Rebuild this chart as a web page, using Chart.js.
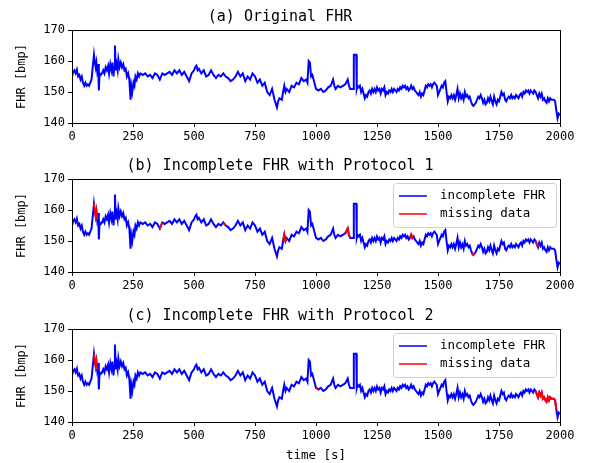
<!DOCTYPE html>
<html>
<head>
<meta charset="utf-8">
<script src="https://cdn.jsdelivr.net/npm/chart.js@4.4.1/dist/chart.umd.min.js"></script>
<style>
  body { margin: 0; background: #fff; }
  .panel { position: absolute; left: 0; width: 597px; }
</style>
</head>
<body>
<div class="panel" style="top:0;height:150px"><canvas id="chartA"></canvas></div>
<div class="panel" style="top:149px;height:150px"><canvas id="chartB"></canvas></div>
<div class="panel" style="top:299px;height:164px"><canvas id="chartC"></canvas></div>
<script>
// FHR signal (time in s, heart rate in bpm)
var timeSec = [
    0,5,10,15,20,25,30,35,40,45,50,55,60,65,70,75,80,85,90,93,97,100,103,107,110,113,118,123,128,133,138,143,148,152,157,162,166,170,173,176,
    179,183,187,190,195,200,205,210,215,220,225,230,235,240,243,247,252,256,260,265,270,275,280,290,300,310,320,330,340,350,360,365,370,380,390,400,410,420,430,440,450,460,470,
    480,490,500,505,510,515,520,530,540,550,560,570,580,590,600,610,620,630,640,650,660,670,680,690,700,710,720,730,740,750,
    760,770,780,790,800,810,820,830,840,845,850,860,865,870,875,880,890,900,910,920,930,940,950,960,965,970,975,980,985,990,
    1000,1010,1020,1030,1040,1050,1060,1070,1075,1080,1090,1100,1110,1120,1130,1135,1140,1150,1153,1155,1165,1167,1170,
    1175,1180,1185,1190,1195,1200,1205,1210,1215,1220,
    1225,1230,1235,1240,1245,1250,1255,1260,1265,1270,
    1275,1280,1285,1290,1295,1300,1305,1310,1315,1320,
    1325,1330,1335,1340,1345,1350,1355,1360,1365,1370,
    1375,1380,1385,1390,1395,1400,1405,1410,1415,1420,
    1425,1430,1435,1440,1445,1450,1455,1460,1465,1470,
    1475,1480,1485,1490,1495,1500,1505,1510,1515,1520,
    1525,1530,1535,1540,1545,1550,1555,1560,1565,1570,
    1575,1580,1585,1590,1595,1600,1605,1610,1615,1620,
    1625,1630,1635,1640,1645,1650,1655,1660,1665,1670,
    1675,1680,1685,1690,1695,1700,1705,1710,1715,1720,
    1725,1730,1735,1740,1745,1750,1755,1760,1765,1770,
    1775,1780,1785,1790,1795,1800,1805,1810,1815,1820,
    1825,1830,1835,1840,1845,1850,1855,1860,1865,1870,
    1875,1880,1885,1890,1895,
    1900,1905,1910,1915,1920,1925,1930,1935,1940,1945,1950,1955,1960,1965,1970,1975,1980,1985,1990,1995,2000
];
var fhr = [
    155,156.5,157,156,157.2,155,155.5,154,155,153,152,153,152,152.5,152,153,154,158,162,160,158,159.5,157,159,150.5,156,155.5,156,157,156,158,157,158.5,156,159,157,159.5,155,158,165,
    157,159,157,160.5,158,159.5,158,159,157,157.5,155,156,154,147.5,152,150,153,152,155,154,156,155,156,155.5,156,155,155.5,154.5,156,155.5,154,155,156,155.5,156,156.5,155.5,157,156,157,155.5,156.5,155,
    153.5,156,157,158,158.5,157,157.5,156,157,155,155.5,157,155.5,154.5,155.5,155,156,155,154.5,153.5,154,155,156.5,155,156,153.5,155,154,156,155,
    153,154,152,153,150,149,151,147.5,145,147,148,147.5,150,152,150,151,150,152,151.5,153,152.5,154.5,153.5,154,153,160,159.5,155,155.5,154,
    151,150.5,151,150,150.5,151.5,152,154,152,151,152,151.5,152,152.5,154,152,151,151,151,162,162,151,152,
    151.5,152,150,151,149.5,148,149,148.5,150,150.5,
    149.5,151,150,151,150,151.5,150.5,151,149.5,151,
    150.5,151.5,149,150,149.5,150.5,150,151,150,151,
    150.5,150,151,150.5,151.5,151,152,151.5,152,151,
    151.5,150.5,151,152,151,151.5,150.5,150,149.5,149,
    150,148.5,149.5,149,150.5,152,151.5,152.5,152,152.5,
    151.5,152.5,153,152.5,152,149,150,151,152,151.5,
    153,153.5,150,147,148.5,148,149,148,149,147.5,
    149,151,148,149.5,148,149,147.5,150,148.5,149,
    148,148.5,147,146,145.5,146,146.5,147.5,148.5,148,
    149,148,146.5,147.5,146,146.5,148,147,148.5,147,
    146,148.5,147,146,147.5,147,148.5,150,149,149.5,
    147.5,147,148,148.5,148,149,148,148.5,148,149,
    148.5,148,149,149.5,148.5,150,149.5,150.5,150,150.5,
    149.5,150.5,150,149.5,150.5,
    150,149,148,149.5,148.5,149.5,147.5,148,147,146.5,148,147,148,147.5,147.5,147.5,147,144,141.5,143,142.5
];

// missing-data intervals [start, end] in s
var missingP1 = [[90,103],[355,370],[612,630],[865,885],[1120,1140],[1385,1400],[1638,1652],[1898,1912]];
var missingP2 = [[90,103],[995,1012],[1898,1988]];

var xTicks = [0,250,500,750,1000,1250,1500,1750,2000];
var yTicks = [140,150,160,170];

var titles = ['(a) Original FHR', '(b) Incomplete FHR with Protocol 1', '(c) Incomplete FHR with Protocol 2'];

var monoFont = "'DejaVu Sans Mono', monospace";

function points() {
    return timeSec.map(function(t, i) { return { x: t, y: fhr[i] }; });
}

function missingPoints(ranges) {
    // keep samples inside each interval, null between intervals
    var pts = [];
    ranges.forEach(function(r) {
        timeSec.forEach(function(t, i) {
            if (t >= r[0] && t <= r[1]) pts.push({ x: t, y: fhr[i] });
        });
        pts.push({ x: r[1] + 0.5, y: null });
    });
    return pts;
}

var framePlugin = {
    id: 'frame',
    afterDraw: function(chart) {
        var a = chart.chartArea;
        var ctx = chart.ctx;
        ctx.save();
        ctx.strokeStyle = '#000';
        ctx.lineWidth = 1;
        ctx.strokeRect(Math.round(a.left) + 0.5, Math.round(a.top) + 0.5, Math.round(a.right - a.left), Math.round(a.bottom - a.top));

        if (chart.options.plugins.boxLegend && chart.options.plugins.boxLegend.show) {
            var w = 163, h = 44;
            var bx = a.right - w - 4, by = a.top + 4;
            ctx.beginPath();
            ctx.roundRect(bx + 0.5, by + 0.5, w, h, 3);
            ctx.fillStyle = 'rgba(255,255,255,0.8)';
            ctx.fill();
            ctx.strokeStyle = '#d0d0d0';
            ctx.stroke();
            ctx.font = '12.5px ' + monoFont;
            ctx.textBaseline = 'middle';
            chart.data.datasets.forEach(function(ds, i) {
                var ry = by + 13 + i * 18;
                ctx.beginPath();
                ctx.moveTo(bx + 6, ry);
                ctx.lineTo(bx + 34, ry);
                ctx.strokeStyle = ds.borderColor;
                ctx.lineWidth = 1.5;
                ctx.stroke();
                ctx.fillStyle = '#000';
                ctx.fillText(ds.label, bx + 47, ry);
            });
        }
        ctx.restore();
    }
};

function plainTick(v) { return String(v); }

function makeChart(id, idx, missing, showXTitle) {
    var datasets = [{
        label: 'incomplete FHR',
        data: points(),
        borderColor: '#0000ff',
        borderWidth: 2,
        pointRadius: 0,
        tension: 0,
        order: 2
    }];
    if (missing) {
        datasets.push({
            label: 'missing data',
            data: missingPoints(missing),
            borderColor: '#ff0000',
            borderWidth: 2,
            pointRadius: 0,
            spanGaps: false,
            tension: 0,
            order: 1
        });
    }
    return new Chart(document.getElementById(id), {
        type: 'line',
        data: { datasets: datasets },
        plugins: [framePlugin],
        options: {
            responsive: true,
            maintainAspectRatio: false,
            animation: false,
            layout: { padding: { left: 0, right: 37, top: 0, bottom: showXTitle ? 0 : 7 } },
            plugins: {
                legend: { display: false },
                tooltip: { enabled: false },
                boxLegend: { show: !!missing },
                title: {
                    display: true,
                    text: titles[idx],
                    color: '#000',
                    font: { family: monoFont, size: 15, weight: 'normal' },
                    padding: { top: 8, bottom: 4 }
                }
            },
            scales: {
                x: {
                    type: 'linear',
                    min: 0,
                    max: 2000,
                    afterBuildTicks: function(scale) {
                        scale.ticks = xTicks.map(function(v) { return { value: v }; });
                    },
                    afterFit: function(scale) { scale.height = showXTitle ? 41 : 20; },
                    grid: { display: true, drawOnChartArea: false, color: '#000', tickLength: 4 },
                    border: { display: true, color: '#000' },
                    ticks: { color: '#000', padding: 3, maxRotation: 0, callback: plainTick, font: { family: monoFont, size: 12 } },
                    title: {
                        display: showXTitle,
                        text: 'time [s]',
                        color: '#000',
                        padding: { top: 2, bottom: 0 },
                        font: { family: monoFont, size: 12.5 }
                    }
                },
                y: {
                    min: 140,
                    max: 170,
                    afterBuildTicks: function(scale) {
                        scale.ticks = yTicks.map(function(v) { return { value: v }; });
                    },
                    afterFit: function(scale) { scale.width = 72; },
                    grid: { display: true, drawOnChartArea: false, color: '#000', tickLength: 4 },
                    border: { display: true, color: '#000' },
                    ticks: { color: '#000', padding: 3, callback: plainTick, font: { family: monoFont, size: 12 } },
                    title: {
                        display: true,
                        text: 'FHR [bmp]',
                        color: '#000',
                        padding: { top: 15, bottom: 0 },
                        font: { family: monoFont, size: 12 }
                    }
                }
            }
        }
    });
}

makeChart('chartA', 0, null, false);
makeChart('chartB', 1, missingP1, false);
makeChart('chartC', 2, missingP2, true);
</script>
</body>
</html>
